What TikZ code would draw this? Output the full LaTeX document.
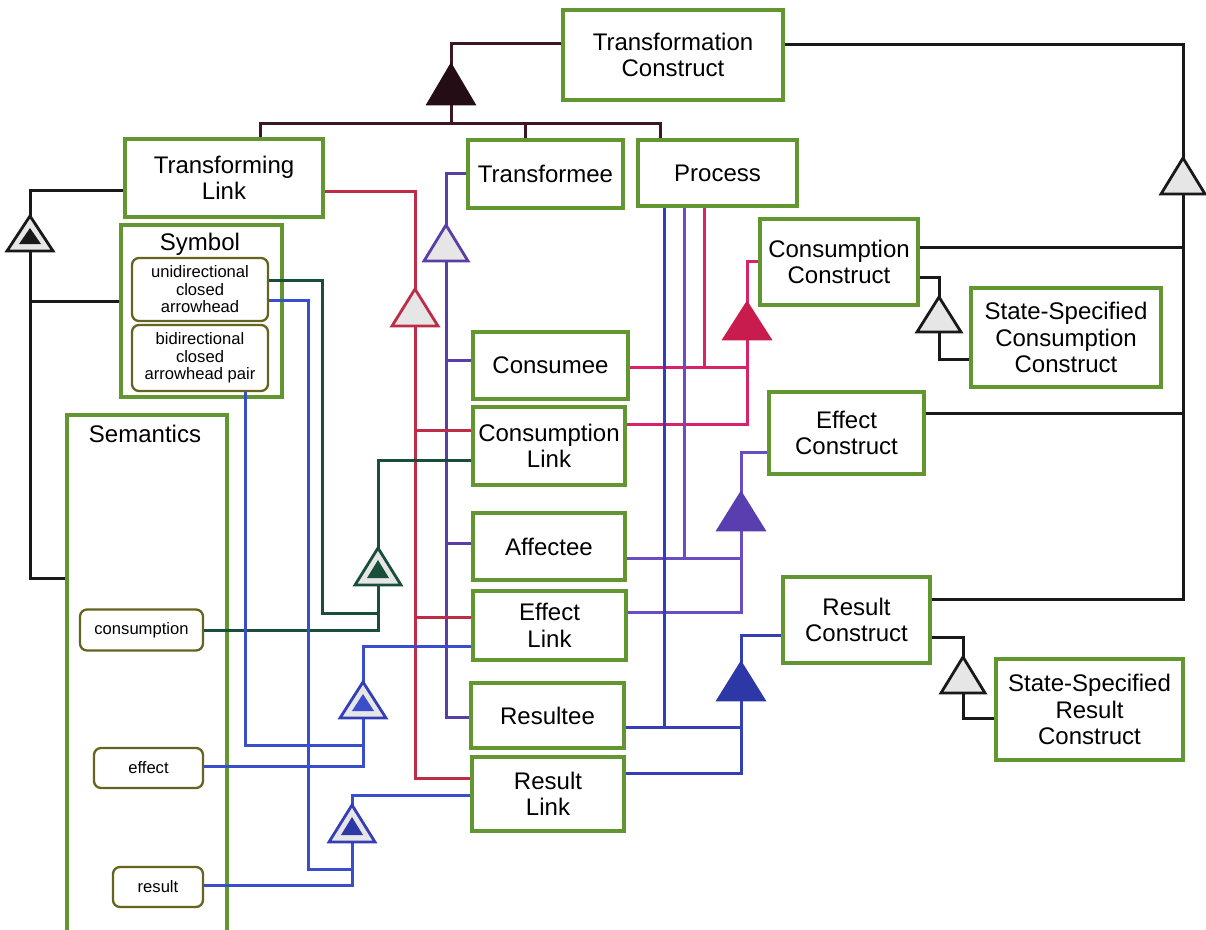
\documentclass[tikz,border=0pt]{standalone}
\usepackage{fontspec}
\setmainfont{Liberation Sans}
\definecolor{boxgreen}{RGB}{98,150,48}
\definecolor{olivec}{RGB}{100,100,32}
\definecolor{maroonc}{RGB}{62,22,36}
\definecolor{redc}{RGB}{190,45,72}
\definecolor{purpc}{RGB}{88,62,165}
\definecolor{pinkc}{RGB}{215,35,105}
\definecolor{pinkf}{RGB}{200,28,78}
\definecolor{effc}{RGB}{105,78,195}
\definecolor{efff}{RGB}{88,62,175}
\definecolor{resc}{RGB}{52,62,182}
\definecolor{resf}{RGB}{45,55,165}
\definecolor{dgreen}{RGB}{25,78,58}
\definecolor{bluec}{RGB}{58,78,202}
\definecolor{trigray}{RGB}{230,230,230}
\definecolor{blackc}{RGB}{25,25,25}
\newcommand\bigf{\fontsize{24}{26.5}\selectfont}
\newcommand\smallf{\fontsize{16.6}{17.5}\selectfont}
\newcommand\mytri[6]{%
  \coordinate (#1-t) at (#2,#3);
  \coordinate (#1-b) at (#2,#4);
  \draw[line width=2.8pt,#6] (#2,#3) -- (#2-#5,#4) -- (#2+#5,#4) -- cycle;}
\newcommand\myexh[6]{%
  \mytri{#1}{#2}{#3}{#4}{23}{draw=#5,fill=trigray}
  \fill[#6] (#2,#3+12) -- (#2-11,#4-7) -- (#2+11,#4-7) -- cycle;}
\begin{document}
\begin{tikzpicture}[x=1pt,y=-1pt,
  box/.style={draw=boxgreen,line width=3.2pt,inner sep=0pt,align=center,font=\bigf},
  rbox/.style={draw=olivec,line width=2.3pt,rounded corners=7pt,inner sep=0pt,align=center,font=\smallf},
  wire/.style={draw=#1,line width=3pt}]
\useasboundingbox (0,0) rectangle (1206,929);
% boxes
\node[box,minimum width=220pt,minimum height=90pt] (tc) at (673,55) {Transformation\\Construct};
\node[box,minimum width=198pt,minimum height=78pt] (tl) at (224,178) {Transforming\\Link};
\node[box,minimum width=155pt,minimum height=68pt] (tfe) at (545.5,174) {Transformee};
\node[box,minimum width=159pt,minimum height=66pt] (proc) at (717.5,173) {Process};
\node[box,minimum width=161pt,minimum height=172pt] (sym) at (201.5,311) {};
\node[font=\bigf,anchor=base,inner sep=0pt] (symt) at (200,250) {Symbol};
\node[rbox,minimum width=136pt,minimum height=63pt] (uni) at (200,289.5) {unidirectional\\closed\\arrowhead};
\node[rbox,minimum width=136pt,minimum height=66pt] (bi) at (200,358) {bidirectional\\closed\\arrowhead pair};
\node[box,minimum width=160pt,minimum height=520pt] (sem) at (147,675) {};
\node[font=\bigf,anchor=base,inner sep=0pt] (semt) at (145,442) {Semantics};
\node[rbox,minimum width=123pt,minimum height=41pt] (cons) at (141.5,630) {consumption};
\node[rbox,minimum width=109pt,minimum height=40pt] (eff) at (148.5,768) {effect};
\node[rbox,minimum width=90pt,minimum height=40pt] (res) at (158,887) {result};
\node[box,minimum width=155pt,minimum height=67pt] (cme) at (550.5,365.5) {Consumee};
\node[box,minimum width=152pt,minimum height=78pt] (cl) at (549,446) {Consumption\\Link};
\node[box,minimum width=152pt,minimum height=67pt] (aff) at (549,546.5) {Affectee};
\node[box,minimum width=153pt,minimum height=69pt] (el) at (549.5,625.5) {Effect\\Link};
\node[box,minimum width=153pt,minimum height=65pt] (rte) at (547.5,715.5) {Resultee};
\node[box,minimum width=152pt,minimum height=74pt] (rl) at (548,794) {Result\\Link};
\node[box,minimum width=158pt,minimum height=86pt] (cc) at (839,262) {Consumption\\Construct};
\node[box,minimum width=190pt,minimum height=99pt] (sscc) at (1066,337.5) {State-Specified\\Consumption\\Construct};
\node[box,minimum width=155pt,minimum height=82pt] (ec) at (846.5,433) {Effect\\Construct};
\node[box,minimum width=147pt,minimum height=86pt] (rc) at (856.5,620) {Result\\Construct};
\node[box,minimum width=187pt,minimum height=101pt] (ssrc) at (1089.5,709.5) {State-Specified\\Result\\Construct};
% triangle anchor coordinates (apex/base)
\coordinate (ag-t) at (451,65); \coordinate (ag-b) at (451,104);
\coordinate (gr-t) at (1183,158); \coordinate (gr-b) at (1183,194);
\coordinate (ex-t) at (30,216); \coordinate (ex-b) at (30,251);
\coordinate (ts-t) at (446,225); \coordinate (ts-b) at (446,261);
\coordinate (ls-t) at (415,289); \coordinate (ls-b) at (415,326);
\coordinate (ca-t) at (747,303); \coordinate (ca-b) at (747,339);
\coordinate (ea-t) at (741,493); \coordinate (ea-b) at (741,530);
\coordinate (ra-t) at (741,663); \coordinate (ra-b) at (741,700);
\coordinate (cs-t) at (939,297); \coordinate (cs-b) at (939,332);
\coordinate (rs-t) at (963,657); \coordinate (rs-b) at (963,693);
\coordinate (ge-t) at (378,548); \coordinate (ge-b) at (378,585);
\coordinate (ee-t) at (363,682); \coordinate (ee-b) at (363,718);
\coordinate (re-t) at (352,805); \coordinate (re-b) at (352,842);
% connectors
% top aggregation
\draw[wire=maroonc] (tc.west |- 0,43) -- (451,43) -- (ag-t);
\draw[wire=maroonc] (ag-b) -- (451,123);
\draw[wire=maroonc] (tl.north -| 260,0) -- (260,123) -- (660,123) -- (proc.north -| 660,0);
\draw[wire=maroonc] (525,123) -- (tfe.north -| 525,0);
% right generalization
\draw[wire=blackc] (tc.east |- 0,44) -- (1183,44) -- (gr-t);
\draw[wire=blackc] (gr-b) -- (1183,599) -- (rc.east |- 0,599);
\draw[wire=blackc] (cc.east |- 0,247) -- (1183,247);
\draw[wire=blackc] (ec.east |- 0,413) -- (1183,413);
% left exhibition
\draw[wire=blackc] (tl.west |- 0,190) -- (30,190) -- (ex-t);
\draw[wire=blackc] (ex-b) -- (30,578) -- (sem.west |- 0,578);
\draw[wire=blackc] (sym.west |- 0,301) -- (30,301);
% transformee specialization
\draw[wire=purpc] (tfe.west |- 0,173) -- (446,173) -- (ts-t);
\draw[wire=purpc] (ts-b) -- (446,717) -- (rte.west |- 0,717);
\draw[wire=purpc] (cme.west |- 0,360) -- (446,360);
\draw[wire=purpc] (aff.west |- 0,543) -- (446,543);
% transforming link specialization
\draw[wire=redc] (tl.east |- 0,191) -- (415,191) -- (ls-t);
\draw[wire=redc] (ls-b) -- (415,778) -- (rl.west |- 0,778);
\draw[wire=redc] (cl.west |- 0,430) -- (415,430);
\draw[wire=redc] (el.west |- 0,617) -- (415,617);
% consumption aggregation
\draw[wire=pinkc] (ca-t) -- (747,261) -- (cc.west |- 0,261);
\draw[wire=pinkc] (ca-b) -- (747,424) -- (cl.east |- 0,424);
\draw[wire=pinkc] (cme.east |- 0,367) -- (747,367);
\draw[wire=pinkc] (proc.south -| 704,0) -- (704,367);
% effect aggregation
\draw[wire=effc] (ea-t) -- (741,452) -- (ec.west |- 0,452);
\draw[wire=effc] (ea-b) -- (741,612) -- (el.east |- 0,612);
\draw[wire=effc] (aff.east |- 0,558) -- (741,558);
\draw[wire=effc] (proc.south -| 684,0) -- (684,558);
% result aggregation
\draw[wire=resc] (ra-t) -- (741,635) -- (rc.west |- 0,635);
\draw[wire=resc] (ra-b) -- (741,773) -- (rl.east |- 0,773);
\draw[wire=resc] (rte.east |- 0,727) -- (741,727);
\draw[wire=resc] (proc.south -| 664,0) -- (664,727);
% state-specified specializations
\draw[wire=blackc] (cc.east |- 0,277) -- (939,277) -- (cs-t);
\draw[wire=blackc] (cs-b) -- (939,359) -- (sscc.west |- 0,359);
\draw[wire=blackc] (rc.east |- 0,637) -- (963,637) -- (rs-t);
\draw[wire=blackc] (rs-b) -- (963,718) -- (ssrc.west |- 0,718);
% symbol / semantics exhibitions
\draw[wire=dgreen] (ge-t) -- (378,460) -- (cl.west |- 0,460);
\draw[wire=dgreen] (ge-b) -- (378,630) -- (cons.east |- 0,630);
\draw[wire=dgreen] (uni.east |- 0,280) -- (322,280) -- (322,613) -- (378,613);
\draw[wire=bluec] (ee-t) -- (363,646) -- (el.west |- 0,646);
\draw[wire=bluec] (ee-b) -- (363,766) -- (eff.east |- 0,766);
\draw[wire=bluec] (bi.south -| 245,0) -- (245,745) -- (363,745);
\draw[wire=bluec] (re-t) -- (352,795) -- (rl.west |- 0,795);
\draw[wire=bluec] (re-b) -- (352,885) -- (res.east |- 0,885);
\draw[wire=bluec] (uni.east |- 0,300) -- (308,300) -- (308,869) -- (352,869);
% triangles
\mytri{ag}{451}{65}{104}{23}{draw=maroonc!60!black,fill=maroonc!60!black}
\mytri{gr}{1183}{158}{194}{22}{draw=blackc,fill=trigray}
\myexh{ex}{30}{216}{251}{blackc}{blackc}
\mytri{ts}{446}{225}{261}{22}{draw=purpc,fill=trigray}
\mytri{ls}{415}{289}{326}{23}{draw=redc,fill=trigray}
\mytri{ca}{747}{303}{339}{23}{draw=pinkf,fill=pinkf}
\mytri{ea}{741}{493}{530}{23}{draw=efff,fill=efff}
\mytri{ra}{741}{663}{700}{23}{draw=resf,fill=resf}
\mytri{cs}{939}{297}{332}{22}{draw=blackc,fill=trigray}
\mytri{rs}{963}{657}{693}{22}{draw=blackc,fill=trigray}
\myexh{ge}{378}{548}{585}{dgreen}{dgreen}
\myexh{ee}{363}{682}{718}{resc}{bluec}
\myexh{re}{352}{805}{842}{resc}{resf}
\end{tikzpicture}
\end{document}
